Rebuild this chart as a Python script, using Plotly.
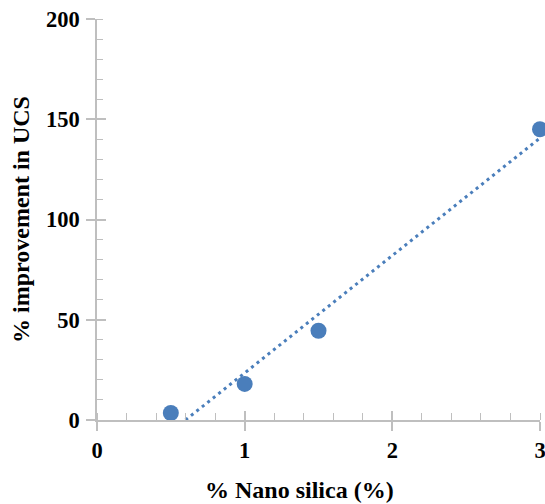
import numpy as np
import plotly.graph_objects as go

# Data
nano_silica = [0.5, 1.0, 1.5, 3.0]
improvement_ucs = [3.5, 18.0, 44.5, 145.0]
x_ticks = [0, 1, 2, 3]
y_ticks = [0, 50, 100, 150, 200]

BLUE = "#4A7EBB"
GRAY = "#BFBFBF"
FONT = "Liberation Serif"

# linear trendline (least squares from data)
m, b = np.polyfit(nano_silica, improvement_ucs, 1)
x0 = -b / m
trend_x = [x0, 3.0]
trend_y = [m * x + b for x in trend_x]

fig = go.Figure()
fig.add_trace(go.Scatter(x=trend_x, y=trend_y, mode="lines",
                         line=dict(color=BLUE, width=3, dash="3px,4px"),
                         hoverinfo="skip", showlegend=False))
fig.add_trace(go.Scatter(x=nano_silica, y=improvement_ucs, mode="markers",
                         marker=dict(color=BLUE, size=16),
                         cliponaxis=False, showlegend=False))
# invisible trace for overlay axes (inside half of crossing ticks)
fig.add_trace(go.Scatter(x=[None], y=[None], xaxis="x2", yaxis="y2",
                         showlegend=False, hoverinfo="skip"))

common = dict(showline=True, linecolor=GRAY, linewidth=1.5, showgrid=False,
              zeroline=False, ticks="outside", ticklen=9, tickwidth=1.5,
              tickcolor=GRAY, ticklabeloverflow="allow", automargin=False,
              tickfont=dict(family=FONT, size=22.5, color="black", weight="bold"))

fig.update_layout(
    width=545, height=504,
    margin=dict(l=97, r=5, t=19, b=84),
    plot_bgcolor="white", paper_bgcolor="white",
    xaxis=dict(range=[0, 3], tickvals=x_ticks, ticklabelstandoff=0,
               minor=dict(dtick=0.2, ticks="inside", ticklen=7,
                          tickcolor=GRAY, tickwidth=1.2),
               **common),
    yaxis=dict(range=[0, 200], tickvals=y_ticks, ticklabelstandoff=2,
               minor=dict(dtick=10, ticks="inside", ticklen=6,
                          tickcolor=GRAY, tickwidth=1.2),
               title=dict(text="% improvement in UCS", standoff=10,
                          font=dict(family=FONT, size=24, color="black",
                                    weight="bold")),
               **common),
    xaxis2=dict(range=[0, 3], overlaying="x", tickvals=x_ticks,
                ticks="inside", ticklen=9, tickwidth=1.5, tickcolor=GRAY,
                showticklabels=False, showline=False, showgrid=False,
                zeroline=False, automargin=False),
    yaxis2=dict(range=[0, 200], overlaying="y", tickvals=y_ticks,
                ticks="inside", ticklen=9, tickwidth=1.5, tickcolor=GRAY,
                showticklabels=False, showline=False, showgrid=False,
                zeroline=False, automargin=False),
    annotations=[dict(text="% Nano silica (%)",
                      x=(299 - 97) / (540 - 97), xref="paper",
                      y=(420 - 490) / (420 - 19), yref="paper",
                      yanchor="middle", showarrow=False,
                      font=dict(family=FONT, size=24, color="black",
                                weight="bold"))],
)

fig.write_html("out.html")
